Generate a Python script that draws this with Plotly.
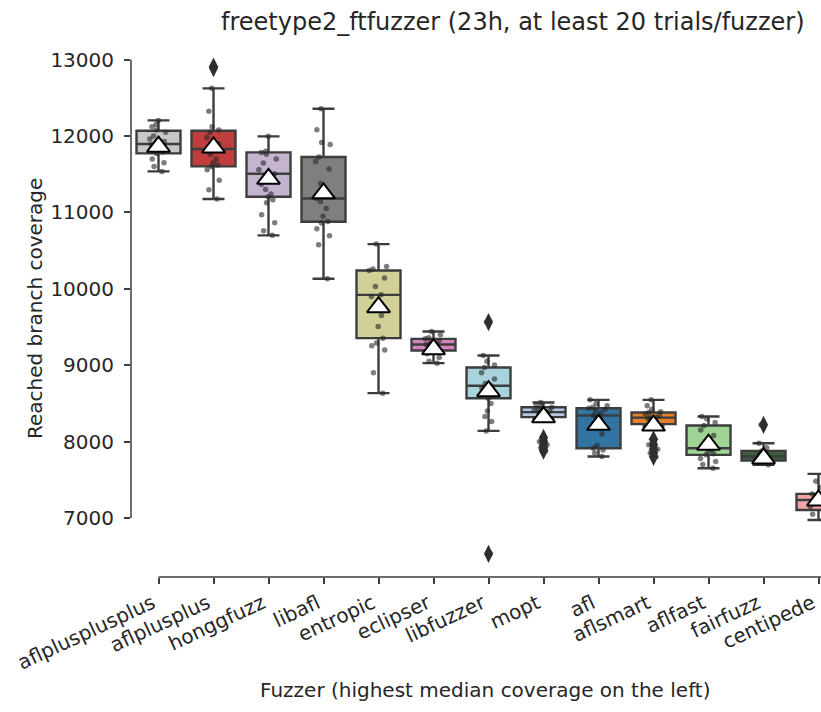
import plotly.graph_objects as go

fuzzers = ["aflplusplusplus", "aflplusplus", "honggfuzz", "libafl", "entropic", "eclipser",
           "libfuzzer", "mopt", "afl", "aflsmart", "aflfast", "fairfuzz", "centipede"]

q1 =        [11773, 11603, 11205, 10878, 9354, 9193, 8568, 8320, 7913, 8228, 7826, 7751, 7105]
median =    [11896, 11830, 11506, 11183, 9921, 9270, 8730, 8385, 8341, 8314, 7913, 7804, 7236]
q3 =        [12070, 12070, 11786, 11725, 10240, 9345, 8969, 8450, 8437, 8380, 8210, 7878, 7315]
lower_whisker = [11537, 11175, 10700, 10131, 8634, 9027, 8140, 8300, 7804, 8200, 7651, 7695, 6974]
upper_whisker = [12205, 12624, 11996, 12358, 10585, 9441, 9127, 8511, 8546, 8546, 8328, 7978, 7577]
means =     [11860, 11850, 11440, 11250, 9760, 9210, 8660, 8320, 8220, 8210, 7960, 7780, 7230]

outliers = {
    "aflplusplus": [12890, 12910],
    "libfuzzer": [9564, 6530],
    "mopt": [8050, 8000, 7960, 7920, 7880],
    "aflsmart": [8030, 7960, 7900, 7850, 7800],
    "fairfuzz": [8219],
}

trials = {
    "aflplusplusplus": [12205, 12150, 12120, 12080, 12050, 12000, 11960, 11930, 11910, 11900,
                        11890, 11870, 11850, 11820, 11790, 11770, 11700, 11650, 11600, 11537],
    "aflplusplus": [12890, 12624, 12323, 12122, 12080, 12050, 11980, 11900, 11860, 11830,
                    11800, 11760, 11700, 11650, 11620, 11600, 11560, 11420, 11297, 11175],
    "honggfuzz": [11996, 11800, 11786, 11760, 11700, 11647, 11560, 11506, 11480, 11420,
                  11370, 11300, 11240, 11205, 11166, 11127, 10970, 10865, 10760, 10700],
    "libafl": [12358, 12083, 11917, 11890, 11725, 11668, 11568, 11380, 11250, 11183,
               11144, 11050, 10950, 10882, 10860, 10786, 10694, 10576, 10131],
    "entropic": [10585, 10293, 10260, 10240, 10140, 10031, 9921, 9900, 9800, 9650,
                 9506, 9354, 9289, 9254, 9200, 8900, 8634],
    "eclipser": [9441, 9400, 9360, 9345, 9320, 9300, 9280, 9270, 9260, 9240,
                 9220, 9200, 9193, 9150, 9100, 9050, 9027],
    "libfuzzer": [9564, 9127, 9050, 9004, 8969, 8900, 8820, 8760, 8730, 8700,
                  8650, 8600, 8568, 8500, 8400, 8327, 8262, 8140, 6530],
    "mopt": [8511, 8480, 8460, 8450, 8430, 8410, 8400, 8390, 8385, 8370,
             8360, 8340, 8320, 8300, 8050, 8000, 7960, 7920, 7880],
    "afl": [8546, 8500, 8470, 8450, 8437, 8420, 8400, 8370, 8341, 8320,
            8300, 8200, 8100, 7950, 7913, 7890, 7850, 7804],
    "aflsmart": [8546, 8470, 8420, 8390, 8380, 8360, 8340, 8320, 8314, 8300,
                 8280, 8250, 8228, 8200, 8030, 7960, 7900, 7850, 7800],
    "aflfast": [8328, 8300, 8250, 8210, 8150, 8080, 8000, 7960, 7930, 7913,
                7890, 7870, 7840, 7826, 7780, 7740, 7700, 7651],
    "fairfuzz": [8219, 7978, 7920, 7878, 7860, 7840, 7820, 7804, 7790, 7780,
                 7770, 7760, 7751, 7730, 7695],
    "centipede": [7577, 7480, 7400, 7315, 7290, 7260, 7236, 7220, 7200, 7150,
                  7105, 7050, 6974],
}

colors = ["#c7c7c7", "#c03d3e", "#c4b4d0", "#7f7f7f", "#d1d197", "#d585bd", "#a7d4dc",
          "#b5c8e1", "#3274a1", "#e1812c", "#9fd495", "#3e5e3e", "#f2a4a3"]

y_ticks = [7000, 8000, 9000, 10000, 11000, 12000, 13000]
y_range = [6227, 13218]
x_range = [-0.5, 12.045]

LINE = "#3d3d3d"
TXT = "#262626"
FONT = "DejaVu Sans"

# plot area in pixels
L, R, T, B = 131, 821, 43, 577
PW, PH = R - L, B - T

fig = go.Figure()

for i, f in enumerate(fuzzers):
    fig.add_trace(go.Box(
        x=[f], q1=[q1[i]], median=[median[i]], q3=[q3[i]],
        lowerfence=[lower_whisker[i]], upperfence=[upper_whisker[i]],
        fillcolor=colors[i], line=dict(color=LINE, width=2.4),
        width=0.8, whiskerwidth=0.5, boxpoints=False, showlegend=False, hoverinfo="skip",
    ))

# strip points (jittered trials)
for i, f in enumerate(fuzzers):
    fig.add_trace(go.Box(
        x=[f] * len(trials[f]), y=trials[f],
        boxpoints="all", jitter=0.45, pointpos=0,
        fillcolor="rgba(0,0,0,0)", line=dict(color="rgba(0,0,0,0)", width=0),
        marker=dict(size=5.5, color="rgba(40,40,40,0.6)"),
        width=0.8, showlegend=False, hoverinfo="skip",
    ))

# outliers
ox, oy = [], []
for f, vals in outliers.items():
    ox += [f] * len(vals)
    oy += vals
fig.add_trace(go.Scatter(
    x=ox, y=oy, mode="markers",
    marker=dict(symbol="diamond-tall", size=13, color="#2f2f2f", line=dict(width=0)),
    showlegend=False, hoverinfo="skip",
))

# means
fig.add_trace(go.Scatter(
    x=fuzzers, y=means, mode="markers",
    marker=dict(symbol="triangle-up", size=20, color="white", line=dict(color="black", width=2)),
    showlegend=False, hoverinfo="skip",
))

def yfrac(v):
    return (v - y_range[0]) / (y_range[1] - y_range[0])

def xfrac(v):
    return (v - x_range[0]) / (x_range[1] - x_range[0])

shapes = [
    dict(type="line", xref="paper", yref="paper", x0=0, x1=0,
         y0=yfrac(y_ticks[0]), y1=yfrac(y_ticks[-1]), line=dict(color=LINE, width=1.5)),
    dict(type="line", xref="paper", yref="paper", x0=xfrac(0), x1=1.0,
         y0=0, y1=0, line=dict(color=LINE, width=1.5)),
]

fig.update_layout(
    width=821, height=712,
    margin=dict(l=L, r=821 - R, t=T, b=712 - B, autoexpand=False),
    plot_bgcolor="white", paper_bgcolor="white",
    boxmode="overlay",
    font=dict(family=FONT, size=20, color=TXT),
    shapes=shapes,
    xaxis=dict(type="category", range=x_range, showgrid=False, zeroline=False, showline=False,
               automargin=False,
               ticks="outside", ticklen=6, tickwidth=1.5, tickcolor=LINE,
               tickangle=-25, ticklabelshift=-6, tickfont=dict(size=20, color=TXT),
               categoryorder="array", categoryarray=fuzzers),
    yaxis=dict(range=y_range, showgrid=False, zeroline=False, showline=False,
               automargin=False,
               tickvals=y_ticks, ticktext=[str(v) for v in y_ticks],
               ticks="outside", ticklen=6, tickwidth=1.5, tickcolor=LINE,
               ticklabelstandoff=6, tickfont=dict(size=20, color=TXT)),
    annotations=[
        dict(text="freetype2_ftfuzzer (23h, at least 20 trials/fuzzer)", xref="paper", yref="paper",
             x=(513 - L) / PW, y=(B - 22) / PH, xanchor="center", yanchor="middle",
             showarrow=False, font=dict(size=24, color=TXT)),
        dict(text="Fuzzer (highest median coverage on the left)", xref="paper", yref="paper",
             x=(485 - L) / PW, y=(B - 690) / PH, xanchor="center", yanchor="middle",
             showarrow=False, font=dict(size=20, color=TXT)),
        dict(text="Reached branch coverage", xref="paper", yref="paper",
             x=(35 - L) / PW, y=(B - 309) / PH, xanchor="center", yanchor="middle", textangle=-90,
             showarrow=False, font=dict(size=20, color=TXT)),
    ],
)

fig.write_html("out.html", config={"displayModeBar": False},
               post_script="document.body.style.margin='0px';")
